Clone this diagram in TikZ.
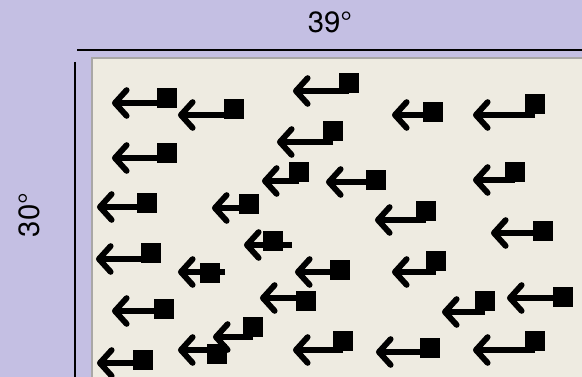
\documentclass[tikz,border=0pt]{standalone}
\usepackage{fontspec}
\setmainfont{TeX Gyre Heros}
\usepackage{tikz}
\usetikzlibrary{arrows.meta}
\definecolor{lavender}{HTML}{C4BFE3}
\definecolor{paper}{HTML}{EEEBE1}
\definecolor{rim}{HTML}{A9A7A6}
\tikzset{
  blk/.style={fill=black, inner sep=0pt, minimum size=0.6cm},
  shaft/.style={draw=black, line width=5pt, -{Straight Barb[length=10pt, width=22pt, round]}},
  dim/.style={black, line width=1.4pt}
}

\begin{document}
\begin{tikzpicture}[x=0.03cm, y=-0.03cm]
    \useasboundingbox (0,0) rectangle (582,377);
    \fill [lavender] (0,0) rectangle (582,377);
    \filldraw [fill=paper, draw=rim, line width=1.5pt] (92,58) rectangle (600,395);
    % dimension bars
    \draw [dim] (77,50) -- (582,50);
    \draw [dim] (75,62) -- (75,377);
    \node [font=\fontsize{25}{30}\selectfont] (width) at (330,22) {39°};
    \node [font=\fontsize{25}{30}\selectfont, rotate=90] (height) at (29,215) {30°};
    % row 1
    \node [blk] (b1) at (167,98.5) {};
    \coordinate (t1) at (112,103);
    \draw [shaft] (b1 |- t1) -- (t1);
    \node [blk] (b2) at (234,109) {};
    \coordinate (t2) at (178,115);
    \draw [shaft] (b2 |- t2) -- (t2);
    \node [blk] (b8) at (349,83) {};
    \coordinate (t8) at (293,91);
    \draw [shaft] (b8 |- t8) -- (t8);
    \node [blk] (b9) at (432.5,112) {};
    \coordinate (t9) at (392,115);
    \draw [shaft] (b9 |- t9) -- (t9);
    \node [blk] (b10) at (535,104) {};
    \coordinate (t10) at (473,115);
    \draw [shaft] (b10 |- t10) -- (t10);
    % row 2
    \node [blk] (b3) at (167,153.5) {};
    \coordinate (t3) at (112,158);
    \draw [shaft] (b3 |- t3) -- (t3);
    \node [blk] (b7) at (333,131) {};
    \coordinate (t7) at (277,142);
    \draw [shaft] (b7 |- t7) -- (t7);
    \node [blk] (b6) at (299,172) {};
    \coordinate (t6) at (262,181);
    \draw [shaft] (b6 |- t6) -- (t6);
    \node [blk] (b12) at (375.5,180) {};
    \coordinate (t12) at (326,182);
    \draw [shaft] (b12 |- t12) -- (t12);
    \node [blk] (b13) at (514.5,172) {};
    \coordinate (t13) at (473,180);
    \draw [shaft] (b13 |- t13) -- (t13);
    % row 3
    \node [blk] (b4) at (146.5,203) {};
    \coordinate (t4) at (97,207);
    \draw [shaft] (b4 |- t4) -- (t4);
    \node [blk] (b5) at (249,204) {};
    \coordinate (t5) at (212,208);
    \draw [shaft] (b5 |- t5) -- (t5);
    \node [blk] (b14) at (425.5,211.5) {};
    \coordinate (t14) at (375,220);
    \draw [shaft] (b14 |- t14) -- (t14);
    \node [blk] (b15) at (543,231) {};
    \coordinate (t15) at (491,233);
    \draw [shaft] (b15 |- t15) -- (t15);
    % row 4
    \node [blk] (b27) at (150.5,253) {};
    \coordinate (t27) at (96,259);
    \draw [shaft] (b27 |- t27) -- (t27);
    \node [blk] (b26) at (273,241) {};
    \coordinate (t26) at (244,245);
    \coordinate (e26) at (292,245);
    \draw [shaft] (e26) -- (t26);
    \node [blk] (b28) at (209.5,273) {};
    \coordinate (t28) at (178,272);
    \coordinate (e28) at (225,272);
    \draw [shaft] (e28) -- (t28);
    \node [blk] (b16) at (339.5,270) {};
    \coordinate (t16) at (295,272);
    \draw [shaft] (b16 |- t16) -- (t16);
    \node [blk] (b17) at (435.5,261) {};
    \coordinate (t17) at (392,272);
    \draw [shaft] (b17 |- t17) -- (t17);
    % row 5
    \node [blk] (b29) at (163.5,309) {};
    \coordinate (t29) at (112,311);
    \draw [shaft] (b29 |- t29) -- (t29);
    \node [blk] (b20) at (306,301) {};
    \coordinate (t20) at (260,298);
    \draw [shaft] (b20 |- t20) -- (t20);
    \node [blk] (b19) at (485,301) {};
    \coordinate (t19) at (442,312);
    \draw [shaft] (b19 |- t19) -- (t19);
    \node [blk] (b18) at (562.5,297) {};
    \coordinate (t18) at (507,298);
    \draw [shaft] (b18 |- t18) -- (t18);
    % row 6
    \node [blk] (b31) at (253,327.5) {};
    \coordinate (t31) at (213,337);
    \draw [shaft] (b31 |- t31) -- (t31);
    \node [blk] (b32) at (217,354) {};
    \coordinate (t32) at (178,350);
    \draw [shaft] (b32 |- t32) -- (t32);
    \node [blk] (b33) at (143,360) {};
    \coordinate (t33) at (97,363);
    \draw [shaft] (b33 |- t33) -- (t33);
    \node [blk] (b21) at (343,341.5) {};
    \coordinate (t21) at (293,350);
    \draw [shaft] (b21 |- t21) -- (t21);
    \node [blk] (b22) at (430,348) {};
    \coordinate (t22) at (376,352);
    \draw [shaft] (b22 |- t22) -- (t22);
    \node [blk] (b23) at (535,341) {};
    \coordinate (t23) at (473,350);
    \draw [shaft] (b23 |- t23) -- (t23);
\end{tikzpicture}
\end{document}
